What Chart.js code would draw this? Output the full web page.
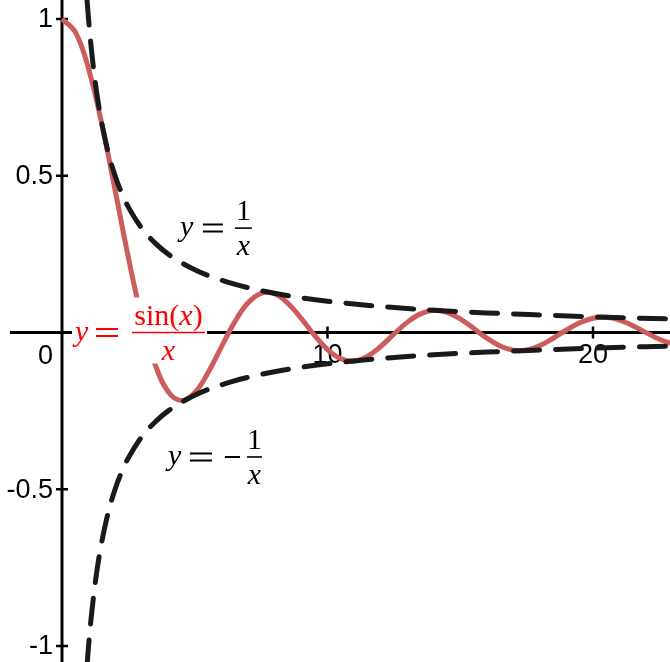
<!DOCTYPE html>
<html>
<head>
<meta charset="utf-8">
<script src="https://cdn.jsdelivr.net/npm/chart.js@4.4.1/dist/chart.umd.min.js"></script>
<style>
html, body { margin: 0; padding: 0; background: #fff; }
#wrap { width: 670px; height: 662px; }
</style>
</head>
<body>
<div id="wrap"><canvas id="grafico" width="670" height="662"></canvas></div>
<script>
// valores
const sincX = [0, 0.5, 1, 1.5, 2, 2.5, 3, 3.5, 4, 4.5, 5, 5.5, 6, 6.5, 7, 7.5, 8, 8.5, 9, 9.5, 10,
  10.5, 11, 11.5, 12, 12.5, 13, 13.5, 14, 14.5, 15, 15.5, 16, 16.5, 17, 17.5, 18, 18.5, 19, 19.5,
  20, 20.5, 21, 21.5, 22, 22.5, 23]
const sincY = [1, 0.9589, 0.8415, 0.665, 0.4546, 0.2394, 0.047, -0.1002, -0.1892, -0.2172, -0.1918,
  -0.1283, -0.0466, 0.0331, 0.0939, 0.1251, 0.1237, 0.0939, 0.0458, -0.0079, -0.0544, -0.0838,
  -0.0909, -0.0761, -0.0447, -0.0053, 0.0323, 0.0595, 0.0708, 0.0645, 0.0434, 0.0133, -0.018,
  -0.0431, -0.0566, -0.056, -0.0417, -0.0183, 0.0079, 0.0311, 0.0456, 0.0485, 0.0398, 0.0219,
  -0.0004, -0.0217, -0.0368]

const invX = [0.94, 1, 1.1, 1.2, 1.3, 1.4, 1.5, 1.75, 2, 2.25, 2.5, 3, 3.5, 4, 5, 6, 7, 8, 9, 10,
  12, 14, 16, 18, 20, 23]
const invY = [1.064, 1, 0.909, 0.833, 0.769, 0.714, 0.667, 0.571, 0.5, 0.444, 0.4, 0.333, 0.286,
  0.25, 0.2, 0.167, 0.143, 0.125, 0.111, 0.1, 0.083, 0.071, 0.0625, 0.056, 0.05, 0.043]
const negInvY = [-1.064, -1, -0.909, -0.833, -0.769, -0.714, -0.667, -0.571, -0.5, -0.444, -0.4,
  -0.333, -0.286, -0.25, -0.2, -0.167, -0.143, -0.125, -0.111, -0.1, -0.083, -0.071, -0.0625,
  -0.056, -0.05, -0.043]

const xTicks = [10, 20]
const xTickLabels = ['10', '20']
const yTicks = [1, 0.5, -0.5, -1]
const yTickLabels = ['1', '0.5', '-0.5', '-1']

const pts = (xs, ys) => xs.map((x, i) => ({ x, y: ys[i] }))

// eixos desenhados com as escalas do próprio Chart.js
const eixos = {
  id: 'eixos',
  beforeDatasetsDraw(chart) {
    const { ctx, chartArea, scales: { x, y } } = chart
    const x0 = x.getPixelForValue(0)
    const y0 = y.getPixelForValue(0)
    ctx.save()
    ctx.strokeStyle = '#000'
    ctx.lineWidth = 3
    ctx.beginPath()
    ctx.moveTo(x0, chartArea.top); ctx.lineTo(x0, chartArea.bottom)
    ctx.moveTo(x.getPixelForValue(-1.96), y0); ctx.lineTo(chartArea.right, y0)
    ctx.stroke()
    ctx.lineWidth = 2.5
    ctx.beginPath()
    yTicks.forEach(v => { const p = y.getPixelForValue(v); ctx.moveTo(x0 - 6, p); ctx.lineTo(x0 + 6, p) })
    xTicks.forEach(v => { const p = x.getPixelForValue(v); ctx.moveTo(p, y0 - 6); ctx.lineTo(p, y0 + 6) })
    ctx.stroke()
    ctx.fillStyle = '#000'
    ctx.font = '27px "Liberation Sans"'
    ctx.textAlign = 'right'
    ctx.textBaseline = 'middle'
    yTicks.forEach((v, i) => ctx.fillText(yTickLabels[i], x0 - 9, y.getPixelForValue(v) + 1))
    ctx.textBaseline = 'top'
    ctx.fillText('0', x0 - 9, y0 + 11)
    ctx.textAlign = 'center'
    xTicks.forEach((v, i) => ctx.fillText(xTickLabels[i], x.getPixelForValue(v), y0 + 10))
    ctx.restore()
  }
}

const serif = it => (it ? 'italic ' : '') + '30px "Liberation Serif"'
function runWidth(ctx, run) {
  let w = 0
  run.forEach(([t, it]) => { ctx.font = serif(it); w += ctx.measureText(t).width })
  return w
}
function drawRun(ctx, run, cx, base) {
  let px = cx - runWidth(ctx, run) / 2
  run.forEach(([t, it]) => { ctx.font = serif(it); ctx.fillText(t, px, base); px += ctx.measureText(t).width })
}

// rótulos das curvas (posição em unidades do gráfico, offsets em px)
const rotulos = [
  { at: [0.49, 0], color: '#ff0000', eq: [21, 43], minus: null, bar: [57, 130],
    num: [['sin', false], ['(', false], ['x', true], [')', false]], box: [-3, 132, -35, 31] },
  { at: [4.44, 0.333], color: '#000', eq: [23, 43], minus: null, bar: [55, 72],
    num: [['1', false]] },
  { at: [3.99, -0.397], color: '#000', eq: [22, 44], minus: [57, 72], bar: [79, 94],
    num: [['1', false]] }
]

const legendas = {
  id: 'legendas',
  afterDatasetsDraw(chart) {
    const { ctx, scales: { x, y } } = chart
    ctx.save()
    rotulos.forEach(r => {
      const ax = x.getPixelForValue(r.at[0])
      const ay = y.getPixelForValue(r.at[1])
      if (r.box) {
        ctx.fillStyle = '#fff'
        ctx.fillRect(ax + r.box[0], ay + r.box[2], r.box[1] - r.box[0], r.box[3] - r.box[2])
      }
      ctx.fillStyle = r.color
      ctx.strokeStyle = r.color
      ctx.textAlign = 'left'
      ctx.textBaseline = 'alphabetic'
      ctx.font = serif(true)
      ctx.fillText('y', ax, ay + 8)
      ctx.lineWidth = 2
      ctx.beginPath()
      ctx.moveTo(ax + r.eq[0], ay - 3.5); ctx.lineTo(ax + r.eq[1], ay - 3.5)
      ctx.moveTo(ax + r.eq[0], ay + 3.5); ctx.lineTo(ax + r.eq[1], ay + 3.5)
      if (r.minus) { ctx.moveTo(ax + r.minus[0], ay); ctx.lineTo(ax + r.minus[1], ay) }
      ctx.stroke()
      ctx.lineWidth = 1.6
      ctx.beginPath()
      ctx.moveTo(ax + r.bar[0], ay); ctx.lineTo(ax + r.bar[1], ay)
      ctx.stroke()
      const cx = ax + (r.bar[0] + r.bar[1]) / 2
      drawRun(ctx, r.num, cx, ay - 8)
      drawRun(ctx, [['x', true]], cx, ay + 27)
    })
    ctx.restore()
  }
}

const ctx = document.getElementById('grafico')

const data = {
  datasets: [
    {
      data: pts(invX, invY),
      borderColor: '#1a1a1a',
      borderWidth: 5,
      borderDash: [26, 16],
      borderCapStyle: 'round',
      cubicInterpolationMode: 'monotone',
      order: 1
    },
    {
      data: pts(invX, negInvY),
      borderColor: '#1a1a1a',
      borderWidth: 5,
      borderDash: [26, 16],
      borderCapStyle: 'round',
      cubicInterpolationMode: 'monotone',
      order: 1
    },
    {
      data: pts(sincX, sincY),
      borderColor: '#cd5c5c',
      borderWidth: 5,
      tension: 0.4,
      order: 2
    }
  ]
}

const config = {
  type: 'scatter',
  data,
  options: {
    responsive: false,
    animation: false,
    showLine: true,
    pointRadius: 0,
    layout: { padding: 0 },
    plugins: { legend: { display: false }, tooltip: { enabled: false } },
    scales: {
      x: { type: 'linear', min: -2.335, max: 22.9, display: false },
      y: { type: 'linear', min: -1.051, max: 1.0606, display: false }
    }
  },
  plugins: [eixos, legendas]
}

const graph = new Chart(ctx, config)
</script>
</body>
</html>
